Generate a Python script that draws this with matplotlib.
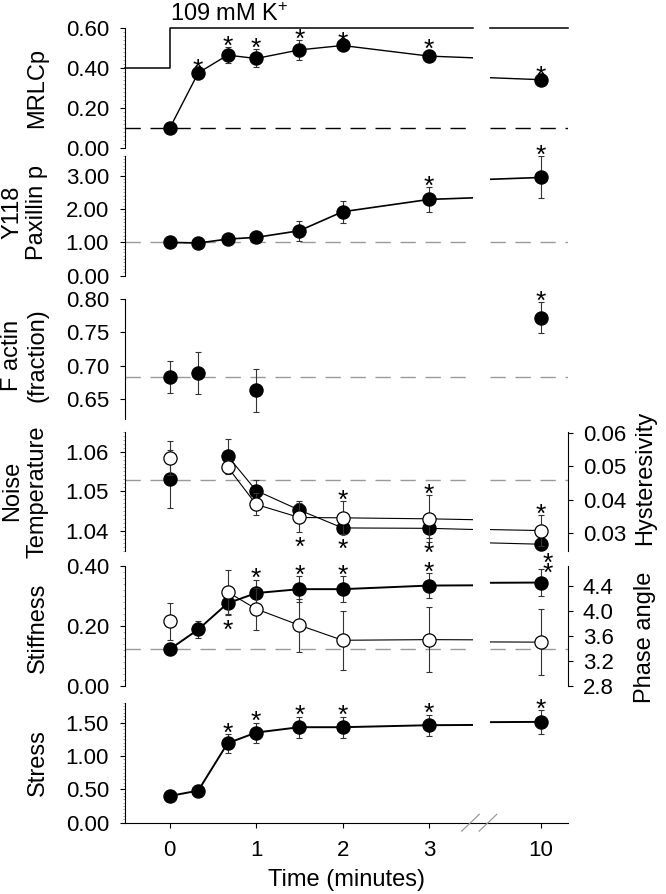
import matplotlib
matplotlib.use("Agg")
import matplotlib.pyplot as plt
from matplotlib.lines import Line2D
from matplotlib.ticker import AutoMinorLocator, FormatStrFormatter

plt.rcParams["font.family"] = ["Liberation Sans", "DejaVu Sans"]
plt.rcParams["mathtext.fontset"] = "custom"
plt.rcParams["mathtext.rm"] = "Liberation Sans"
plt.rcParams["mathtext.it"] = "Liberation Sans:italic"

# ---- data (time in minutes) ----
time_all = [0, 0.33, 0.67, 1, 1.5, 2, 3, 10]
time_osc = [0, 0.67, 1, 1.5, 2, 3, 10]
time_actin = [0, 0.33, 1, 10]

mrlc = [0.10, 0.377, 0.466, 0.449, 0.492, 0.514, 0.461, 0.343]
mrlc_err = [0.01, 0.012, 0.04, 0.045, 0.05, 0.012, 0.03, 0.012]
mrlc_base = 0.10

paxillin = [1.00, 0.98, 1.10, 1.15, 1.35, 1.92, 2.29, 2.95]
paxillin_err = [0.05, 0.05, 0.05, 0.05, 0.30, 0.33, 0.38, 0.63]
paxillin_base = 1.00

actin = [0.683, 0.689, 0.6625, 0.7725]
actin_err = [0.024, 0.032, 0.032, 0.024]
actin_base = 0.6825

noise = [1.0531, 1.0589, 1.0502, 1.0453, 1.0408, 1.0407, 1.0367]
noise_err = [0.0073, 0.0043, 0.0027, 0.0022, 0.0015, 0.0024, 0.0015]
noise_base = 1.0529

hyst = [0.0525, 0.0498, 0.0386, 0.0347, 0.0346, 0.0343, 0.0308]
hyst_err = [0.0051, 0.0022, 0.0033, 0.0043, 0.0049, 0.0070, 0.0047]

stiff = [0.122, 0.188, 0.275, 0.309, 0.322, 0.322, 0.334, 0.344]
stiff_err = [0.02, 0.028, 0.038, 0.045, 0.043, 0.043, 0.042, 0.045]
stiff_base = 0.122

phase = [3.83, 4.30, 4.03, 3.77, 3.53, 3.54, 3.50]
phase_err = [0.30, 0.35, 0.33, 0.42, 0.47, 0.52, 0.53]

stress = [0.40, 0.48, 1.19, 1.35, 1.43, 1.43, 1.46, 1.51]
stress_err = [0.03, 0.03, 0.14, 0.15, 0.16, 0.16, 0.16, 0.18]

# K+ stimulus: resting level, stimulated level (drawn in MRLCp units)
stim_time = 0
stim_levels = [0.40, 0.60]

# significance marks (times)
mrlc_sig = [0.33, 0.67, 1, 1.5, 2, 3, 10]
paxillin_sig = [3, 10]
actin_sig = [10]
noise_sig_below = [2, 3, 10]
hyst_sig_above = [2, 3, 10]
hyst_sig_below = [1.5]
stiff_sig_above = [1, 1.5, 2, 3, 10]
stiff_sig_below = [0.67]
stress_sig = [0.67, 1, 1.5, 2, 3, 10]

# ---- layout (pixels) ----
W, H = 666, 894
XLIM_L = (-0.517, 3.503)
XLIM_R = (9.41, 10.31)
LEFT_PX = (125, 472.5)
RIGHT_PX = (490, 568)
ROWS = [(28.3, 148.3), (155.8, 275.7), (299.3, 418.6),
        (431.7, 551.0), (565.7, 686.0), (702.5, 822.7)]
TICK_FS = 16
LABEL_FS = 17
STAR_FS = 19
STAR_MID = 14.8  # px from baseline to the asterisk's centre at STAR_FS

fig = plt.figure(figsize=(W / 100, H / 100), dpi=100)


def add_axes_px(x0, x1, top, bot):
    ax = fig.add_axes([x0 / W, 1 - bot / H, (x1 - x0) / W, (bot - top) / H])
    ax.patch.set_visible(False)
    for s in ax.spines.values():
        s.set_visible(False)
    ax.set_xticks([])
    ax.set_yticks([])
    return ax


def make_row(i, ylim, ticks, fmt, minor=True):
    top, bot = ROWS[i]
    axl = add_axes_px(*LEFT_PX, top, bot)
    axr = add_axes_px(*RIGHT_PX, top, bot)
    axl.set_xlim(XLIM_L)
    axr.set_xlim(XLIM_R)
    for ax in (axl, axr):
        ax.set_ylim(ylim)
    axl.spines["left"].set_visible(True)
    axl.spines["left"].set_linewidth(0.8)
    axl.set_yticks(ticks)
    axl.yaxis.set_major_formatter(FormatStrFormatter(fmt))
    axl.tick_params(axis="y", direction="out", length=3.6, width=0.8,
                    pad=8, labelsize=TICK_FS)
    if minor:
        axl.yaxis.set_minor_locator(AutoMinorLocator(10))
        axl.tick_params(axis="y", which="minor", length=1.5, width=0.4,
                        color="#666666")
    return axl, axr


def make_twin(pair, ylim, ticks, fmt):
    axl, axr = pair
    tl = axl.twinx()
    tr = axr.twinx()
    for ax in (tl, tr):
        ax.patch.set_visible(False)
        for s in ax.spines.values():
            s.set_visible(False)
        ax.set_ylim(ylim)
        ax.set_yticks([])
    tr.spines["right"].set_visible(True)
    tr.spines["right"].set_linewidth(0.8)
    tr.set_yticks(ticks)
    tr.yaxis.set_major_formatter(FormatStrFormatter(fmt))
    tr.tick_params(axis="y", direction="out", length=3.6, width=0.8,
                   pad=7, labelsize=TICK_FS)
    return tl, tr


def series(pair, t, y, err, filled=True, start=0, lw=1.2, line=True):
    for ax in pair:
        ax.errorbar(t, y, yerr=err, fmt="none", ecolor="#333333",
                    elinewidth=0.8, capsize=2.5, capthick=0.8, zorder=2)
        if line:
            ax.plot(t[start:], y[start:], "-", color="black", lw=lw, zorder=3)
        ax.plot(t, y, "o", ms=9.5, mfc="black" if filled else "white",
                mec="black", mew=0.9, zorder=4, clip_on=False)


def baseline(pair, yv, color="#999999"):
    for ax in pair:
        ax.axhline(yv, color=color, lw=1.0, linestyle=(0, (11, 7)), zorder=1)


def stars(pair, t, y, err, times, above=True, gap=8.0, shift=None):
    for tt in times:
        i = t.index(tt)
        ax = pair[1] if tt > XLIM_L[1] else pair[0]
        g, dx = gap, 0.0
        if shift and tt in shift:
            dx, g = shift[tt]
        if above:
            yy = y[i] + err[i]
            oy = g - STAR_MID
        else:
            yy = y[i] - err[i]
            oy = -g - STAR_MID
        ax.annotate("*", (tt, yy), xytext=(dx * 0.72, oy * 0.72),
                    textcoords="offset points", ha="center", va="baseline",
                    fontsize=STAR_FS, annotation_clip=False, zorder=6)


def ylabel(lines, row, xs=(18.5, 43.5), dy=0):
    top, bot = ROWS[row]
    yc = (top + bot) / 2 + dy
    xs = xs[-len(lines):]
    for txt, x in zip(lines, xs):
        fig.text(x / W, 1 - yc / H, txt, rotation=90, rotation_mode="anchor",
                 ha="center", va="baseline", fontsize=LABEL_FS)


# ---- panel 1: MRLCp ----
p1 = make_row(0, (0, 0.6), [0, 0.2, 0.4, 0.6], "%.2f")
baseline(p1, mrlc_base, color="black")
series(p1, time_all, mrlc, mrlc_err, lw=1.0)
stars(p1, time_all, mrlc, mrlc_err, mrlc_sig)
p1[0].plot([XLIM_L[0], stim_time, stim_time, XLIM_L[1]],
           [stim_levels[0], stim_levels[0], stim_levels[1], stim_levels[1]],
           color="black", lw=1.1, clip_on=False, zorder=5)
p1[1].plot(XLIM_R, [stim_levels[1]] * 2, color="black", lw=1.1,
           clip_on=False, zorder=5)
p1[0].annotate("109 mM K$^{+}$", (stim_time, stim_levels[1]), xytext=(0, 5.5),
               textcoords="offset points", ha="left", va="baseline",
               fontsize=LABEL_FS, annotation_clip=False)
ylabel(["MRLCp"], 0)

# ---- panel 2: Y118 paxillin ----
p2 = make_row(1, (0, 3.6), [0, 1, 2, 3], "%.2f")
baseline(p2, paxillin_base)
series(p2, time_all, paxillin, paxillin_err, lw=1.2)
stars(p2, time_all, paxillin, paxillin_err, paxillin_sig)
ylabel(["Y118", "Paxillin p"], 1, dy=-3)

# ---- panel 3: F actin ----
p3 = make_row(2, (0.62, 0.80), [0.65, 0.70, 0.75, 0.80], "%.2f", minor=False)
baseline(p3, actin_base)
series(p3, time_actin, actin, actin_err, line=False)
stars(p3, time_actin, actin, actin_err, actin_sig)
ylabel(["F actin", "(fraction)"], 2, dy=-4)

# ---- panel 4: noise temperature / hysteresivity ----
p4 = make_row(3, (1.035, 1.065), [1.04, 1.05, 1.06], "%.2f")
p4t = make_twin(p4, (0.0247, 0.0603), [0.03, 0.04, 0.05, 0.06], "%.2f")
baseline(p4, noise_base)
series(p4, time_osc, noise, noise_err, start=1, lw=0.8)
series(p4t, time_osc, hyst, hyst_err, filled=False, start=1, lw=0.8)
stars(p4, time_osc, noise, noise_err, noise_sig_below, above=False,
      shift={10: (7, 5.7)})
stars(p4t, time_osc, hyst, hyst_err, hyst_sig_above)
stars(p4t, time_osc, hyst, hyst_err, hyst_sig_below, above=False)
ylabel(["Noise", "Temperature"], 3)
fig.text(651.5 / W, 1 - 478 / H, "Hysteresivity", rotation=90,
         rotation_mode="anchor", ha="center", va="baseline", fontsize=LABEL_FS)

# ---- panel 5: stiffness / phase angle ----
p5 = make_row(4, (0, 0.4), [0, 0.2, 0.4], "%.2f")
p5t = make_twin(p5, (2.8, 4.72), [2.8, 3.2, 3.6, 4.0, 4.4], "%.1f")
baseline(p5, stiff_base)
series(p5, time_all, stiff, stiff_err, lw=1.4)
series(p5t, time_osc, phase, phase_err, filled=False, start=1, lw=0.8)
stars(p5, time_all, stiff, stiff_err, stiff_sig_above, shift={10: (7, 3.3)})
stars(p5, time_all, stiff, stiff_err, stiff_sig_below, above=False)
ylabel(["Stiffness"], 4, dy=2)
fig.text(651.5 / W, 1 - 637.5 / H, "Phase angle", rotation=90,
         rotation_mode="anchor", ha="center", va="baseline", fontsize=LABEL_FS)

# ---- panel 6: stress ----
p6 = make_row(5, (0, 1.8), [0, 0.5, 1.0, 1.5], "%.2f")
series(p6, time_all, stress, stress_err, lw=1.4)
stars(p6, time_all, stress, stress_err, stress_sig)
ylabel(["Stress"], 5)

# bottom time axis with break
axl, axr = p6
for ax, ticks in ((axl, [0, 1, 2, 3]), (axr, [10])):
    ax.spines["bottom"].set_visible(True)
    ax.spines["bottom"].set_linewidth(0.8)
    ax.set_xticks(ticks)
    ax.set_xticklabels([str(v) for v in ticks])
    ax.tick_params(axis="x", direction="out", length=3.6, width=0.8,
                   pad=9, labelsize=TICK_FS)
bl = axl.get_position()
br = axr.get_position()
fig.add_artist(Line2D([bl.x1, br.x0], [bl.y0, bl.y0], transform=fig.transFigure,
                      color="black", lw=0.8))
for xc in (bl.x1 - 2 / W, br.x0 - 2 / W):
    fig.add_artist(Line2D([xc - 8.8 / W, xc + 8.8 / W],
                          [bl.y0 - 8.4 / H, bl.y0 + 8.4 / H],
                          transform=fig.transFigure, color="#999999", lw=0.9))
fig.text(((LEFT_PX[0] + RIGHT_PX[1]) / 2) / W, 1 - 880 / H, "Time (minutes)",
         ha="center", va="center", fontsize=LABEL_FS)

fig.savefig("out.png", dpi=100)
